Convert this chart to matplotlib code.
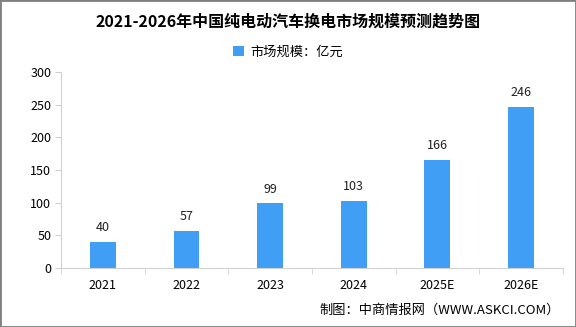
import numpy as np
import matplotlib.pyplot as plt
from matplotlib.patches import Rectangle

plt.rcParams['font.family'] = ['Noto Sans CJK SC', 'DejaVu Sans']

# 数据
anos = ["2021", "2022", "2023", "2024", "2025E", "2026E"]
valores = [40, 57, 99, 103, 166, 246]
cor = "#409EF5"

fig = plt.figure(figsize=(5.76, 3.27), dpi=100)
ax = fig.add_axes([0.106, 0.180, 0.871, 0.600])

x = np.arange(len(anos))
ax.bar(x, valores, width=0.31, color=cor, label="市场规模：亿元", zorder=2)
for xi, v in zip(x, valores):
    ax.text(xi, v + 12, str(v), ha="center", va="bottom", fontsize=9, color="#222222")

ax.set_xlim(-0.5, len(anos) - 0.5)
ax.set_ylim(0, 300)
ax.set_yticks(range(0, 301, 50))
ax.set_xticks(x)
ax.set_xticklabels(anos)
ax.set_xticks(np.arange(-0.5, len(anos), 1), minor=True)
ax.tick_params(axis="x", which="major", length=0, pad=8, labelsize=9)
ax.tick_params(axis="x", which="minor", length=4, color="#d0d0d0")
ax.tick_params(axis="y", length=4, color="#d0d0d0", labelsize=9, pad=3)

for s in ["top", "right"]:
    ax.spines[s].set_visible(False)
for s in ["left", "bottom"]:
    ax.spines[s].set_color("#d0d0d0")

fig.text(0.5, 0.935, "2021-2026年中国纯电动汽车换电市场规模预测趋势图",
         ha="center", va="center", fontsize=11.5, fontweight="bold")
ax.legend(loc="center", bbox_to_anchor=(0.5, 1.0), bbox_transform=fig.transFigure,
          frameon=False, fontsize=9.5, handlelength=0.8, handleheight=0.8, handletextpad=0.5)
leg = ax.get_legend()
leg.set_bbox_to_anchor((0.5, 0.84), transform=fig.transFigure)

fig.text(0.972, 0.05, "制图：中商情报网（WWW.ASKCI.COM）", ha="right", va="center", fontsize=9.5)

fig.patches.append(Rectangle((0, 0), 1, 1, transform=fig.transFigure, fill=False,
                             edgecolor="#808080", linewidth=2))

plt.savefig("out.png", dpi=100)
